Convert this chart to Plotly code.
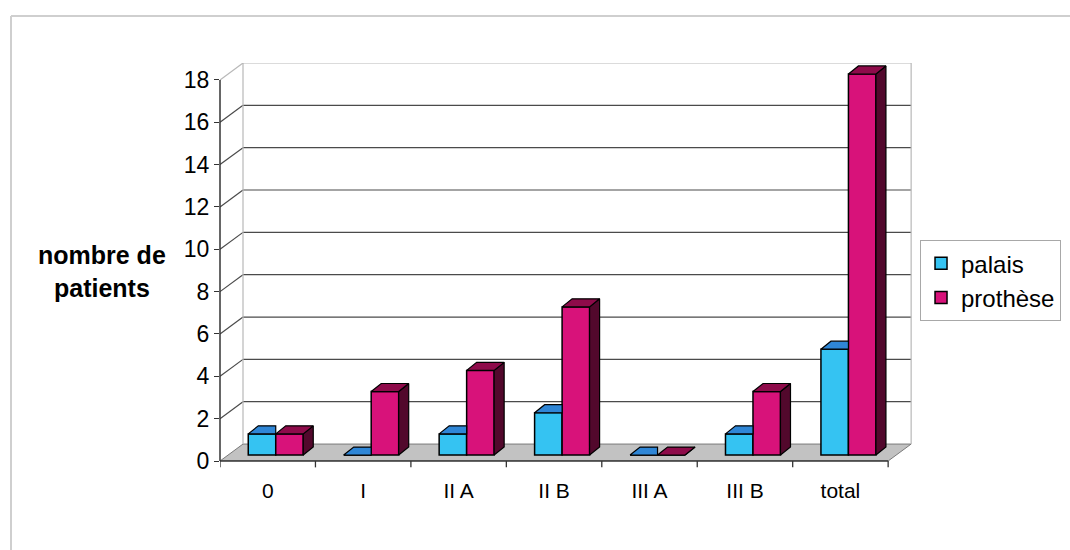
import plotly.graph_objects as go

# ---- data ----
categories = ["0", "I", "II A", "II B", "III A", "III B", "total"]
palais = [1, 0, 1, 2, 0, 1, 5]
prothese = [1, 3, 4, 7, 0, 3, 18]
y_ticks = [0, 2, 4, 6, 8, 10, 12, 14, 16, 18]

# ---- styling / pseudo-3D geometry (axis units) ----
FONT = "Liberation Sans, Arial, sans-serif"
COL_PAL = "#35c3f2"
COL_PAL_TOP = "#2f86d6"
COL_PRO = "#d8127a"
COL_PRO_TOP = "#8e0b4a"
COL_PRO_SIDE = "#52082c"
DX, DY = 0.241, 0.80          # wall depth offset
BASE = 0.28                   # bars stand halfway into the floor
BW = 0.288                    # bar width
BDX, BDY = 0.105, 0.38        # bar depth offset
OFF_PAL, OFF_PRO = -0.204, 0.084

n = len(categories)
xs = list(range(n))
x_lo, x_hi = -0.5, n - 0.5
y_top = y_ticks[-1]

fig = go.Figure()

# front faces of the bars
fig.add_trace(go.Bar(x=xs, y=palais, base=BASE, offset=OFF_PAL, width=BW,
                     name="palais", marker=dict(color=COL_PAL, line=dict(color="#000", width=1.5))))
fig.add_trace(go.Bar(x=xs, y=prothese, base=BASE, offset=OFF_PRO, width=BW,
                     name="prothèse", marker=dict(color=COL_PRO, line=dict(color="#000", width=1.5))))


def faces(values, off, kind, clip_right=False):
    px, py = [], []
    for c, v in zip(xs, values):
        l = c + off
        r = l + BW
        t = BASE + v
        if kind == "top":
            rr = r if clip_right else r + BDX
            pts = [(l, t), (r, t), (rr, t + BDY), (l + BDX, t + BDY), (l, t)]
        else:
            pts = [(r, BASE), (r, t), (r + BDX, t + BDY), (r + BDX, BASE + BDY), (r, BASE)]
        for a, b in pts:
            px.append(a)
            py.append(b)
        px.append(None)
        py.append(None)
    return px, py


# palais top faces (right part hidden behind the taller prothèse bar)
tx, ty = faces(palais, OFF_PAL, "top", clip_right=True)
fig.add_trace(go.Scatter(x=tx, y=ty, mode="lines", fill="toself", fillcolor=COL_PAL_TOP,
                         line=dict(color="#000", width=1.2), showlegend=False, hoverinfo="skip"))
sx, sy = faces(prothese, OFF_PRO, "side")
fig.add_trace(go.Scatter(x=sx, y=sy, mode="lines", fill="toself", fillcolor=COL_PRO_SIDE,
                         line=dict(color="#000", width=1.2), showlegend=False, hoverinfo="skip"))
tx, ty = faces(prothese, OFF_PRO, "top")
fig.add_trace(go.Scatter(x=tx, y=ty, mode="lines", fill="toself", fillcolor=COL_PRO_TOP,
                         line=dict(color="#000", width=1.2), showlegend=False, hoverinfo="skip"))

shapes = []
# floor
shapes.append(dict(type="path", xref="x", yref="y", layer="below",
                   path=f"M{x_lo},0 L{x_hi},0 L{x_hi + DX},{DY} L{x_lo + DX},{DY} Z",
                   fillcolor="#c2c2c2", line=dict(color="#7a7a7a", width=1)))
# side wall diagonals + back wall gridlines
for v in y_ticks[1:]:
    col = "#b8b8b8" if v == y_top else "#4a4a4a"
    shapes.append(dict(type="line", xref="x", yref="y", layer="below",
                       x0=x_lo, y0=v, x1=x_lo + DX, y1=v + DY, line=dict(color=col, width=1.2)))
    shapes.append(dict(type="line", xref="x", yref="y", layer="below",
                       x0=x_lo + DX, y0=v + DY, x1=x_hi + DX, y1=v + DY, line=dict(color=col, width=1.2)))
# wall edges
shapes.append(dict(type="line", xref="x", yref="y", layer="below",
                   x0=x_lo + DX, y0=DY, x1=x_lo + DX, y1=y_top + DY, line=dict(color="#b8b8b8", width=1.2)))
shapes.append(dict(type="line", xref="x", yref="y", layer="below",
                   x0=x_hi + DX, y0=DY, x1=x_hi + DX, y1=y_top + DY, line=dict(color="#b8b8b8", width=1.2)))
# value axis line and category axis line
shapes.append(dict(type="line", xref="paper", yref="y", x0=0, x1=0, y0=0, y1=y_top,
                   line=dict(color="#333", width=1.5)))
shapes.append(dict(type="line", xref="x", yref="paper", x0=x_lo, x1=x_hi, y0=0, y1=0,
                   line=dict(color="#333", width=1.5)))
# category boundary ticks
for b in range(n + 1):
    shapes.append(dict(type="line", xref="x", yref="paper", x0=b - 0.5, x1=b - 0.5,
                       y0=0, y1=-0.016, line=dict(color="#333", width=1.3)))
# outer chart frame
shapes.append(dict(type="line", xref="paper", yref="paper", x0=-0.302, x1=1.3, y0=1.118, y1=1.118,
                   line=dict(color="#cfcfcf", width=2)))
shapes.append(dict(type="line", xref="paper", yref="paper", x0=-0.302, x1=-0.302, y0=-0.3, y1=1.118,
                   line=dict(color="#cfcfcf", width=2)))

fig.update_layout(
    width=1070, height=550,
    margin=dict(l=220, r=158, t=63, b=89, autoexpand=False),
    paper_bgcolor="white", plot_bgcolor="white",
    barmode="overlay",
    font=dict(family=FONT, size=20, color="#000"),
    shapes=shapes,
    xaxis=dict(range=[x_lo, x_hi + 0.25], tickmode="array", tickvals=xs, ticktext=categories,
               showgrid=False, zeroline=False, showline=False,
               ticks="outside", ticklen=11, tickcolor="rgba(0,0,0,0)",
               tickfont=dict(size=21)),
    yaxis=dict(range=[0, 18.8], tickmode="array", tickvals=y_ticks,
               showgrid=False, zeroline=False, showline=False,
               ticks="outside", ticklen=5, tickcolor="#333", tickfont=dict(size=23)),
    legend=dict(x=1.0116, y=0.555, xanchor="left", yanchor="top",
                bordercolor="#a8a8a8", borderwidth=1, bgcolor="white",
                font=dict(size=24), tracegroupgap=4),
    annotations=[dict(xref="paper", yref="paper", x=-0.1705, y=0.477,
                      xanchor="center", yanchor="middle",
                      text="<b>nombre de<br>patients</b>", showarrow=False,
                      font=dict(size=25), align="center")],
)

fig.write_html("out.html")
